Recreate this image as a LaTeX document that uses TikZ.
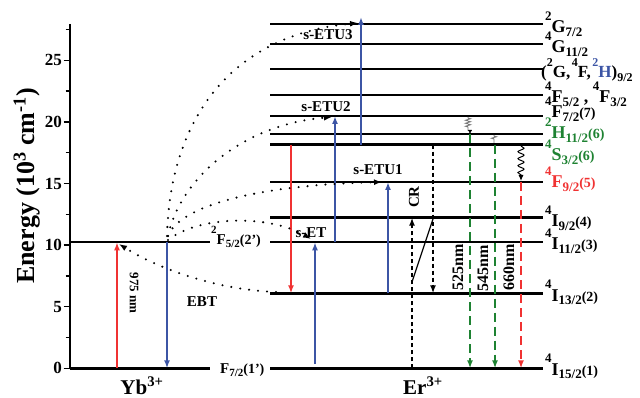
\documentclass[tikz,border=0pt]{standalone}
\usepackage{fontspec}
\setmainfont{Liberation Serif}
\usetikzlibrary{arrows.meta,decorations.pathmorphing}

\definecolor{pumpred}{RGB}{240,50,50}
\definecolor{etblue}{RGB}{60,85,165}
\definecolor{emgreen}{RGB}{30,130,50}
\definecolor{wavegray}{RGB}{120,120,120}

% raised / lowered term-symbol indices
\newcommand\up[2][13]{\raisebox{0.7em}{\fontsize{#1}{#1}\selectfont #2}}
\newcommand\dn[2][13]{\raisebox{-0.2em}{\fontsize{#1}{#1}\selectfont #2}}
\newcommand\lv[4]{\up{#1}#2\dn{#3}{\fontsize{14}{14}\selectfont #4}}

\begin{document}
\begin{tikzpicture}[x=1pt,y=-1pt,
  level/.style={line width=2.4pt},
  thinlevel/.style={line width=1.3pt},
  tip/.style={-{Latex[length=8pt,width=6pt]}},
  pump/.style={tip,line width=2pt},
  dotarr/.style={line width=2.3pt,dash pattern=on 0pt off 9pt,line cap=round,
                 -{Latex[length=8pt,width=6pt]}},
  emit/.style={line width=2pt,dash pattern=on 9pt off 5pt,-{Latex[length=8pt,width=6pt]}},
  crarr/.style={line width=1.6pt,dash pattern=on 4pt off 3pt,-{Latex[length=8pt,width=6pt]}},
  wave/.style={decorate,decoration={zigzag,segment length=3pt,amplitude=2.5pt,
               pre length=1pt,post length=3pt},line width=0.9pt,color=wavegray},
  bigwave/.style={decorate,decoration={snake,segment length=7pt,amplitude=3pt,
               post length=5pt},line width=1pt,-{Latex[length=6pt,width=5pt]}},
  lab/.style={font=\fontsize{18}{20}\selectfont\bfseries,inner sep=0pt,anchor=base west},
  yblab/.style={font=\fontsize{15}{17}\selectfont\bfseries,inner sep=0pt,anchor=base west},
  tag/.style={font=\fontsize{15}{17}\selectfont\bfseries,inner sep=0pt},
  nm/.style={font=\fontsize{16}{18}\selectfont\bfseries,inner sep=0pt,rotate=90},
  ticklbl/.style={font=\fontsize{17}{19}\selectfont\bfseries,inner sep=0pt,anchor=east},
  ion/.style={font=\fontsize{21}{23}\selectfont\bfseries,inner sep=0pt,anchor=base},
]
\useasboundingbox (0,0) rectangle (640,398);

% ---- energy levels (y positions) ----
\coordinate (Y1)  at (0,368.3);  % Yb 2F7/2
\coordinate (Y2)  at (0,242.3);  % Yb 2F5/2
\coordinate (L1)  at (0,368.3);  % 4I15/2
\coordinate (L2)  at (0,293.3);  % 4I13/2
\coordinate (L3)  at (0,242.3);  % 4I11/2
\coordinate (L4)  at (0,217.7);  % 4I9/2
\coordinate (L5)  at (0,182);    % 4F9/2
\coordinate (L6)  at (0,144.7);  % 4S3/2
\coordinate (L6h) at (0,134);    % 2H11/2
\coordinate (L7)  at (0,116);    % 4F7/2
\coordinate (L8)  at (0,95);     % 4F5/2, 4F3/2
\coordinate (L9)  at (0,69);     % (2G,4F,2H)9/2
\coordinate (L10) at (0,44);     % 4G11/2
\coordinate (L11) at (0,24);     % 2G7/2

% ---- transition columns (x positions) ----
\coordinate (xA)    at (70,0);
\coordinate (xYbR)  at (210,0);
\coordinate (xErL)  at (270,0);
\coordinate (xErR)  at (543,0);
\coordinate (xP)    at (117,0);
\coordinate (xEBT)  at (167,0);
\coordinate (xRD)   at (291,0);
\coordinate (xsET)  at (315,0);
\coordinate (xU2)   at (335,0);
\coordinate (xU3)   at (361,0);
\coordinate (xU1)   at (388,0);
\coordinate (xCRu)  at (412,0);
\coordinate (xCRd)  at (433,0);
\coordinate (xG1)   at (470,0);
\coordinate (xG2)   at (495,0);
\coordinate (xR)    at (521,0);

% ---- energy axis ----
\draw[line width=2pt] (70,24) -- (xA |- Y1);
\foreach \e in {0,5,...,25}{
  \draw[line width=1.5pt] (63.5,{368.3-12.32*\e}) -- (70,{368.3-12.32*\e});
  \node[ticklbl] (tick\e) at (62,{368.3-12.32*\e}) {\e};
}
\foreach \e in {2.5,7.5,...,27.5}{
  \draw[line width=1.5pt] (65.5,{368.3-12.32*\e}) -- (70,{368.3-12.32*\e});
}
\node[rotate=90,font=\fontsize{26}{28}\selectfont\bfseries,inner sep=0pt]
  (ylab) at (27,186) {Energy (10\textsuperscript{3} cm\textsuperscript{-1})};

% ---- Yb levels ----
\draw[level] (xA |- Y2) -- (xYbR |- Y2);
\draw[level] (xA |- Y1) -- (xYbR |- Y1);
\node[yblab] (ybhi) at (211,244) {\up[11]{2}F\dn[11]{5/2}{\fontsize{14}{14}\selectfont(2')}};
\node[yblab] (yblo) at (220,373) {F\dn[11]{7/2}{\fontsize{14}{14}\selectfont(1')}};

% ---- Er levels ----
\foreach \l in {L1,L2,L3,L4,L5,L6,L6h,L7,L8,L9,L10}{
  \draw[level] (xErL |- \l) -- (xErR |- \l);
}
\draw[thinlevel] (xErL |- L11) -- (xErR |- L11);

\node[lab] (n11) at (545,33)  {\up{2}G\dn{7/2}};
\node[lab] (n10) at (545,53)  {\up{4}G\dn{11/2}};
\node[lab,font=\fontsize{17}{19}\selectfont\bfseries] (n9) at (541,78)
  {(\up[12]{2}G,\kern1.5pt\up[12]{4}F,\kern1.5pt\textcolor{etblue}{\up[12]{2}H})\dn[12]{9/2}};
\node[lab] (n8)  at (545,103) {\up{4}F\dn{5/2} , \up{4}F\dn{3/2}};
\node[lab] (n7)  at (545,118) {\lv{4}{F}{7/2}{(7)}};
\node[lab,text=emgreen] (n6h) at (545,139) {\lv{2}{H}{11/2}{(6)}};
\node[lab,text=emgreen] (n6)  at (545,161) {\lv{4}{S}{3/2}{(6)}};
\node[lab,text=pumpred] (n5)  at (545,188) {\lv{4}{F}{9/2}{(5)}};
\node[lab] (n4) at (545,227) {\lv{4}{I}{9/2}{(4)}};
\node[lab] (n3) at (545,250) {\lv{4}{I}{11/2}{(3)}};
\node[lab] (n2) at (545,301) {\lv{4}{I}{13/2}{(2)}};
\node[lab] (n1) at (545,375) {\lv{4}{I}{15/2}{(1)}};

\node[ion] (yb) at (142,394) {Yb\textsuperscript{3+}};
\node[ion] (er) at (423,394) {Er\textsuperscript{3+}};

% ---- Yb pump and back transfer ----
\draw[pump,pumpred] (xP |- Y1) -- (xP |- Y2);
\node[tag,font=\fontsize{13}{15}\selectfont\bfseries,rotate=-90] (p975) at (134,293) {975 nm};
\draw[pump,etblue] (xEBT |- Y2) -- (xEBT |- Y1);
\node[tag] (ebt) at (202,302) {EBT};

% ---- Er excitation ----
\draw[pump,etblue] (315,364) -- (xsET |- L3);
\draw[pump,etblue] (xU1 |- L2) -- (xU1 |- L5);
\draw[pump,etblue] (xU2 |- L3) -- (xU2 |- L7);
\draw[pump,etblue] (xU3 |- L6) -- (361,17);
\draw[pump,pumpred] (xRD |- L6) -- (xRD |- L2);

% ---- energy transfer paths ----
\draw[dotarr] (276,292) .. controls (220,290) and (160,270) .. (119,244);
\draw[dotarr] (168,240) .. controls (200,215) and (270,215) .. (311,239);
\draw[dotarr] (168,236) .. controls (180,205) and (260,185) .. (382,182);
\draw[dotarr] (168,236) .. controls (180,180) and (240,125) .. (332,117);
\draw[dotarr] (167,236) .. controls (170,120) and (230,35) .. (358,23);
\node[tag] (sET)   at (311,233) {s-ET};
\node[tag] (sETU1) at (378,170) {s-ETU1};
\node[tag] (sETU2) at (326,107) {s-ETU2};
\node[tag] (sETU3) at (328,35)  {s-ETU3};

% ---- cross relaxation ----
\draw[crarr] (xCRu |- L1) -- (xCRu |- L4);
\draw[crarr] (xCRd |- L6) -- (xCRd |- L2);
\draw[line width=1.2pt] (412,282) -- (433.3,218);
\node[tag,rotate=90] (cr) at (414,197) {CR};

% ---- nonradiative relaxation ----
\draw[wave] (468,117) -- (468,131);
\draw[-{Latex[length=4pt,width=4pt]}] (470,130) -- (470,134);
\draw[wave] (494,135) -- (494,143);
\draw[bigwave] (521,146) -- (521,181);

% ---- emissions ----
\draw[emit,emgreen] (xG1 |- L6h) -- (xG1 |- L1);
\draw[emit,emgreen] (xG2 |- L6)  -- (xG2 |- L1);
\draw[emit,pumpred] (xR |- L5)   -- (xR |- L1);
\node[nm] (w525) at (458,267) {525nm};
\node[nm] (w545) at (483,268) {545nm};
\node[nm] (w660) at (509,267) {660nm};
\end{tikzpicture}
\end{document}
